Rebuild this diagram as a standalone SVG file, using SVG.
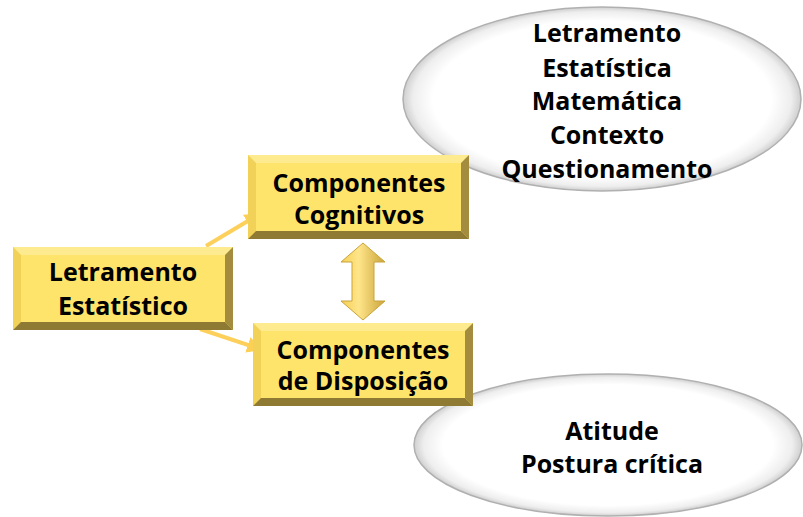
<svg xmlns="http://www.w3.org/2000/svg" width="803" height="517" viewBox="0 0 803 517">
<defs>
<radialGradient id="ell" cx="50%" cy="50%" r="50%">
<stop offset="0" stop-color="#ffffff"/>
<stop offset="0.85" stop-color="#ffffff"/>
<stop offset="0.95" stop-color="#eeeeee"/>
<stop offset="1" stop-color="#cfcfcf"/>
</radialGradient>
<linearGradient id="gold" x1="0" y1="0" x2="1" y2="0">
<stop offset="0" stop-color="#f3cf55"/>
<stop offset="0.4" stop-color="#ffe58a"/>
<stop offset="1" stop-color="#caa43a"/>
</linearGradient>
<marker id="ah" viewBox="0 0 10 10" refX="8" refY="5" markerWidth="4" markerHeight="4" orient="auto" markerUnits="strokeWidth">
<path d="M0,0 L10,5 L0,10 z" fill="#fccf55"/>
</marker>
</defs>
<style>
.t{font-family:"Open Sans","DejaVu Sans",sans-serif;font-weight:bold;font-size:25px;fill:#000;text-anchor:middle}
.face{fill:#ffe46c}
.bt{fill:#ffeb8f}
.bl{fill:#f2d158}
.br{fill:#a48c3e}
.bb{fill:#8f7a34}
.el{fill:url(#ell);stroke:#b0b0b0;stroke-width:1.5}
.con{stroke:#fcd05a;stroke-width:4;fill:none}
</style>
<g id="connectors">
<line class="con" x1="206" y1="246" x2="258" y2="215" marker-end="url(#ah)"/>
<line class="con" x1="200" y1="329" x2="260" y2="349" marker-end="url(#ah)"/>
<polygon points="363,243 385,262 374,262 374,301 385,301 363,320 341,301 352,301 352,262 341,262" fill="url(#gold)" stroke="#c9a33a" stroke-width="1"/>
</g>
<g id="ellipse-top">
<ellipse class="el" cx="602" cy="99" rx="199" ry="92"/>
<text class="t" x="607" y="42">Letramento</text>
<text class="t" x="607" y="77">Estatística</text>
<text class="t" x="607" y="110">Matemática</text>
<text class="t" x="607" y="144">Contexto</text>
<text class="t" x="607" y="178">Questionamento</text>
</g>
<g id="ellipse-bottom">
<ellipse class="el" cx="608" cy="445" rx="194" ry="71"/>
<text class="t" x="612" y="440">Atitude</text>
<text class="t" x="612" y="473">Postura crítica</text>
</g>
<g id="box-letramento">
<rect class="face" x="13" y="247" width="220" height="83"/>
<polygon class="bt" points="13,247 233,247 225,255 21,255"/>
<polygon class="bl" points="13,247 21,255 21,322 13,330"/>
<polygon class="br" points="233,247 233,330 225,322 225,255"/>
<polygon class="bb" points="13,330 233,330 225,322 21,322"/>
<text class="t" x="123" y="281">Letramento</text>
<text class="t" x="123" y="315">Estatístico</text>
</g>
<g id="box-cognitivos">
<rect class="face" x="248" y="155" width="221" height="84"/>
<polygon class="bt" points="248,155 469,155 461,163 256,163"/>
<polygon class="bl" points="248,155 256,163 256,231 248,239"/>
<polygon class="br" points="469,155 469,239 461,231 461,163"/>
<polygon class="bb" points="248,239 469,239 461,231 256,231"/>
<text class="t" x="359" y="192">Componentes</text>
<text class="t" x="359" y="224">Cognitivos</text>
</g>
<g id="box-disposicao">
<rect class="face" x="253" y="323" width="220" height="83"/>
<polygon class="bt" points="253,323 473,323 465,331 261,331"/>
<polygon class="bl" points="253,323 261,331 261,398 253,406"/>
<polygon class="br" points="473,323 473,406 465,398 465,331"/>
<polygon class="bb" points="253,406 473,406 465,398 261,398"/>
<text class="t" x="363" y="359">Componentes</text>
<text class="t" x="363" y="390">de Disposição</text>
</g>
</svg>
